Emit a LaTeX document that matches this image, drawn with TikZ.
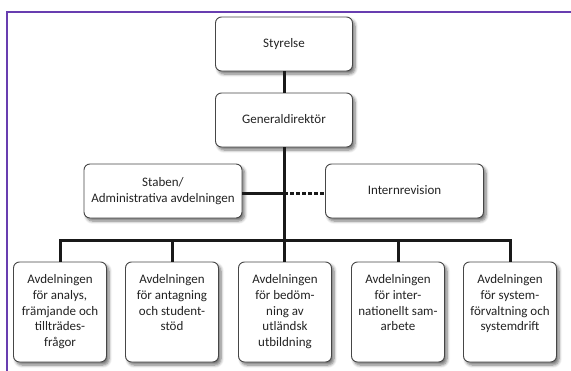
\documentclass[tikz,border=0pt]{standalone}
\usepackage{fontspec}
\setmainfont{Carlito}
\usetikzlibrary{shadows.blur}
\definecolor{framepurple}{RGB}{104,62,176}
\definecolor{boxline}{RGB}{70,70,70}
\definecolor{txt}{RGB}{35,35,35}
\tikzset{
  orgbox/.style={draw=boxline, line width=0.9pt, fill=white, rounded corners=6pt,
    blur shadow={shadow xshift=2.5pt, shadow yshift=-3pt, shadow blur steps=6,
      shadow blur radius=3pt, shadow opacity=55},
    align=center, text=txt, font=\fontsize{13}{15.7}\selectfont, inner sep=2pt},
  topbox/.style={orgbox, minimum width=137pt, minimum height=54pt},
  midbox/.style={orgbox, minimum width=158pt, minimum height=54pt},
  lowbox/.style={orgbox, minimum width=93pt, minimum height=100pt},
  lowtext/.style={align=center, text=txt, font=\fontsize{13}{15.7}\selectfont,
    inner sep=0pt, anchor=north},
  conn/.style={line width=3pt, draw=black!90},
  dotconn/.style={conn, dash pattern=on 3.5pt off 2.5pt},
  frameline/.style={draw=framepurple, line width=2pt}
}
\begin{document}
\begin{tikzpicture}[x=1pt,y=-1pt]
\useasboundingbox (0,0) rectangle (571,370);
\draw[frameline] (6.5,400) -- (6.5,12) -- (600,12);

\node[topbox] (sty) at (284,44) {\raisebox{2pt}{Styrelse}};
\node[topbox] (gen) at (284,120) {\raisebox{2pt}{Generaldirektör}};
\node[midbox] (stab) at (163,191) {Staben/\\Administrativa avdelningen};
\node[midbox] (intr) at (404.5,191) {\raisebox{2pt}{Internrevision}};

\node[lowbox] (b1) at (60,312) {};
\node[lowbox] (b2) at (172,312) {};
\node[lowbox] (b3) at (285,312) {};
\node[lowbox] (b4) at (398,312) {};
\node[lowbox] (b5) at (510,312) {};

\node[lowtext] (t1) at ([yshift=-13pt]b1.north) {Avdelningen\\för analys,\\främjande och\\tillträdes-\\frågor};
\node[lowtext] (t2) at ([yshift=-13pt]b2.north) {Avdelningen\\för antagning\\och student-\\stöd};
\node[lowtext] (t3) at ([yshift=-13pt]b3.north) {Avdelningen\\för bedöm-\\ning av\\utländsk\\utbildning};
\node[lowtext] (t4) at ([yshift=-13pt]b4.north) {Avdelningen\\för inter-\\nationellt sam-\\arbete};
\node[lowtext] (t5) at ([yshift=-13pt]b5.north) {Avdelningen\\för system-\\förvaltning och\\systemdrift};

\coordinate (j1) at (284,193);
\coordinate (bus) at (284,240.5);

\draw[conn] (sty.south) -- (gen.north);
\draw[conn] (gen.south) -- (gen.south |- b3.north);
\draw[conn] (stab.east |- j1) -- (j1);
\draw[dotconn] (j1) -- (intr.west |- j1);
\draw[conn] (b1.north) -- (b1.north |- bus) -- (b5.north |- bus) -- (b5.north);
\draw[conn] (b2.north |- bus) -- (b2.north);
\draw[conn] (b4.north |- bus) -- (b4.north);
\end{tikzpicture}
\end{document}
